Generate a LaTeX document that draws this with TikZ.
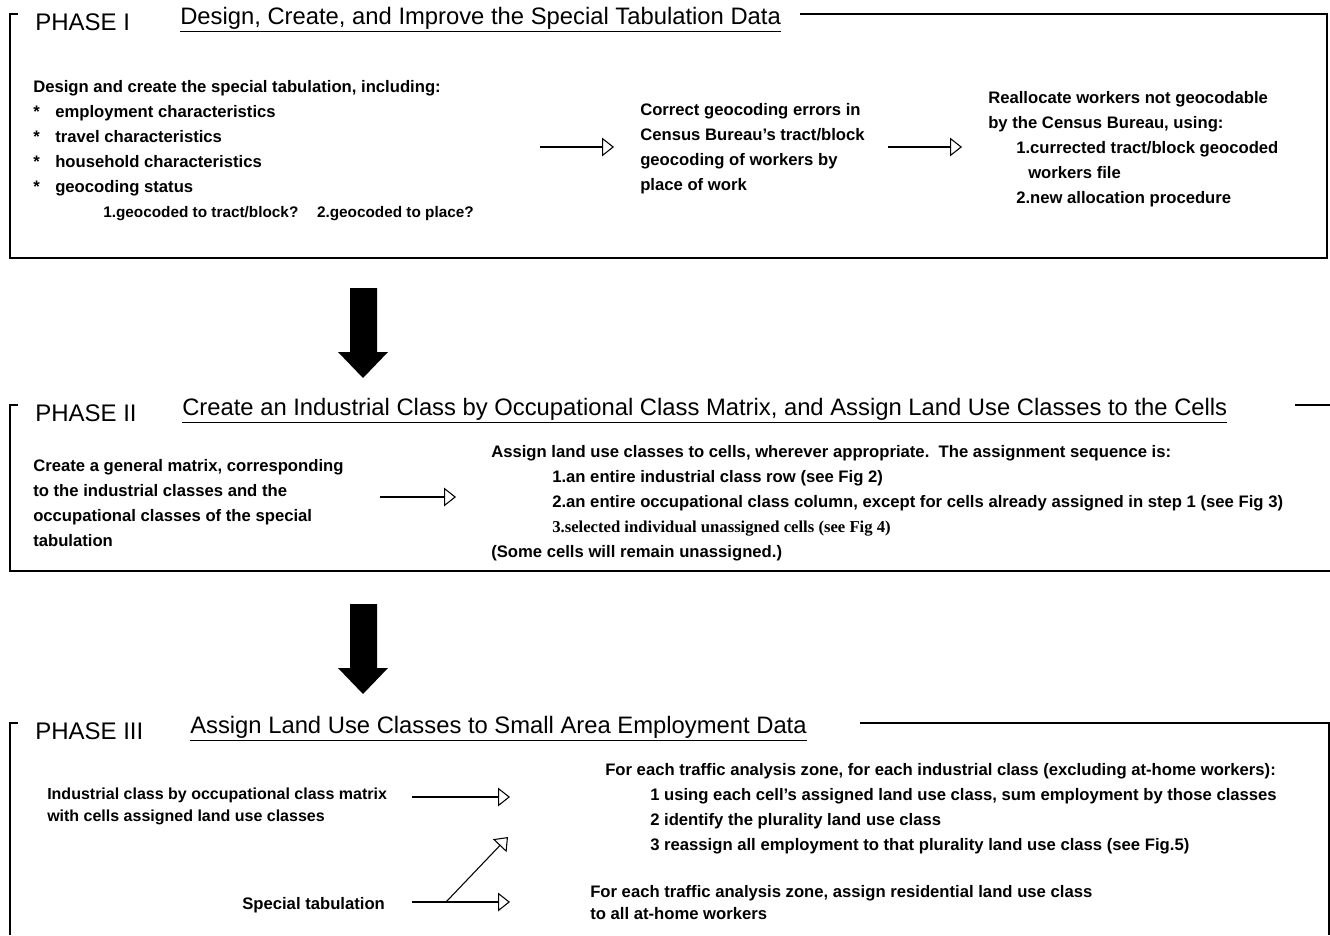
\documentclass[tikz,border=0pt]{standalone}
\usepackage{fontspec}
\setmainfont{Liberation Sans}
\newfontfamily\serifpart{Liberation Serif}
\usetikzlibrary{arrows.meta}

\begin{document}
\begin{tikzpicture}[x=0.75pt, y=-0.75pt,
    body/.style={anchor=west, inner sep=0pt, align=left, font=\fontsize{12.5}{18.75}\selectfont\bfseries},
    tight/.style={anchor=west, inner sep=0pt, align=left, font=\fontsize{12.5}{16.5}\selectfont\bfseries},
    phase/.style={anchor=west, inner sep=0pt, font=\fontsize{18}{22}\selectfont},
    heading/.style={anchor=west, inner sep=0pt, font=\fontsize{17.85}{22}\selectfont},
    frame/.style={line width=1pt},
    flow/.style={line width=0.8pt, -{Triangle[open, length=9pt, width=14pt]}},
    down/.style={fill=black}]
    \useasboundingbox (0,0) rectangle (1330,935);

    % phase I
    \node[phase] (p1) at (35,22) {PHASE I};
    \node[heading] (t1) at (180,20) {\underline{Design, Create, and Improve the Special Tabulation Data}};
    \draw[frame] (18,14) -- (10,14) -- (10,258) -- (1327,258) -- (1327,14) -- (800,14);

    \node[body] (1) at (33,150.5) {Design and create the special tabulation, including:\\
        \makebox[16.5pt][l]{*}employment characteristics\\
        \makebox[16.5pt][l]{*}travel characteristics\\
        \makebox[16.5pt][l]{*}household characteristics\\
        \makebox[16.5pt][l]{*}geocoding status\\
        \hspace*{52.5pt}{\fontsize{11.5}{18.75}\selectfont 1.geocoded to tract/block?\hspace{14pt}2.geocoded to place?}};
    \node[body] (2) at (640,149) {Correct geocoding errors in\\Census Bureau's tract/block\\geocoding of workers by\\place of work};
    \node[body] (3) at (988,149) {Reallocate workers not geocodable\\by the Census Bureau, using:\\
        \hspace*{21pt}1.currected tract/block geocoded\\
        \hspace*{30pt}workers file\\
        \hspace*{21pt}2.new allocation procedure};

    \coordinate (1s) at (540,147);
    \coordinate (1e) at (614,147);
    \coordinate (2s) at (888,147);
    \coordinate (2e) at (962,147);
    \draw[flow] (1s) -- (1e);
    \draw[flow] (2s) -- (2e);

    \fill[down] (350,288) -- (377,288) -- (377,352) -- (388,352) -- (363,378) -- (338,352) -- (350,352) -- cycle;

    % phase II
    \node[phase] (p2) at (35,413) {PHASE II};
    \node[heading] (t2) at (182,411) {\underline{Create an Industrial Class by Occupational Class Matrix, and Assign Land Use Classes to the Cells}};
    \draw[frame] (18,405) -- (10,405) -- (10,571) -- (1330,571);
    \draw[frame] (1295,405) -- (1330,405);

    \node[body] (4) at (33,503) {Create a general matrix, corresponding\\to the industrial classes and the\\occupational classes of the special\\tabulation};
    \node[body] (5) at (491,503) {Assign land use classes to cells, wherever appropriate.\ \ The assignment sequence is:\\
        \hspace*{45.75pt}1.an entire industrial class row (see Fig 2)\\
        \hspace*{45.75pt}2.an entire occupational class column, except for cells already assigned in step 1 (see Fig 3)\\
        \hspace*{45.75pt}{\serifpart 3.selected individual unassigned cells (see Fig 4)}\\
        (Some cells will remain unassigned.)};

    \coordinate (3s) at (380,497);
    \coordinate (3e) at (456,497);
    \draw[flow] (3s) -- (3e);

    \fill[down] (350,604) -- (377,604) -- (377,668) -- (388,668) -- (363,694) -- (338,668) -- (350,668) -- cycle;

    % phase III
    \node[phase] (p3) at (35,731) {PHASE III};
    \node[heading] (t3) at (190,729) {\underline{Assign Land Use Classes to Small Area Employment Data}};
    \draw[frame] (18,723) -- (10,723) -- (10,935);
    \draw[frame] (860,723) -- (1329,723) -- (1329,935);

    \node[tight, font=\fontsize{12}{16.5}\selectfont\bfseries] (6) at (47,806) {Industrial class by occupational class matrix\\with cells assigned land use classes};
    \node[body] (7) at (242,905) {Special tabulation};
    \node[body] (8) at (605,809) {For each traffic analysis zone, for each industrial class (excluding at-home workers):\\
        \hspace*{33.75pt}1 using each cell's assigned land use class, sum employment by those classes\\
        \hspace*{33.75pt}2 identify the plurality land use class\\
        \hspace*{33.75pt}3 reassign all employment to that plurality land use class (see Fig.5)};
    \node[tight] (9) at (590,903) {For each traffic analysis zone, assign residential land use class\\to all at-home workers};

    \coordinate (4s) at (412,797);
    \coordinate (4e) at (510,797);
    \coordinate (5s) at (412,902);
    \coordinate (5e) at (510,902);
    \coordinate (fork) at (446,902);
    \coordinate (6e) at (508,837);
    \draw[flow] (4s) -- (4e);
    \draw[flow] (5s) -- (5e);
    \draw[flow] (fork) -- (6e);
\end{tikzpicture}
\end{document}
